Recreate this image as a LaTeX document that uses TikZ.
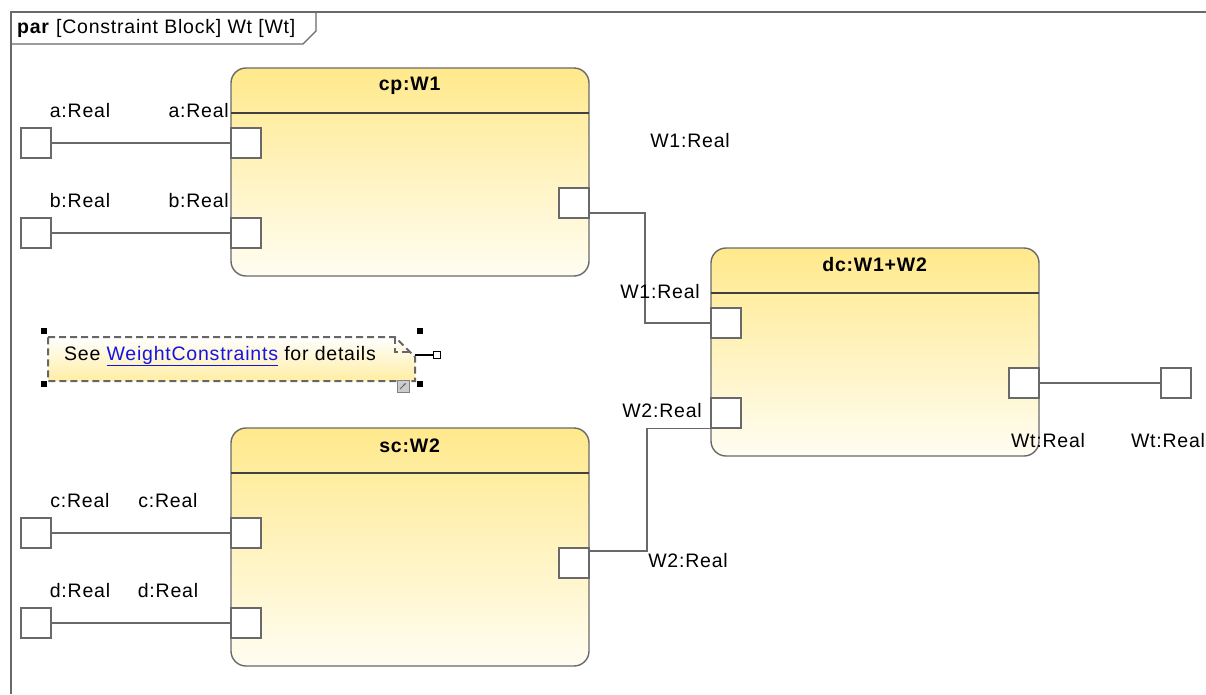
\documentclass[tikz,border=0pt]{standalone}
\usepackage{fontspec}
\setmainfont{Liberation Sans}[LetterSpace=4]
\usepackage{tikz}
\usetikzlibrary{arrows.meta, calc, positioning}

\definecolor{blockTop}{RGB}{255,233,140}
\definecolor{blockBot}{RGB}{255,253,242}
\definecolor{edgeGray}{RGB}{105,105,105}
\definecolor{linkBlue}{RGB}{20,20,230}

\begin{document}
\begin{tikzpicture}[x=1pt, y=-1pt, >=Stealth,
    font=\fontsize{19.5}{22}\selectfont,
    block/.style={draw=edgeGray, line width=1.4pt, rounded corners=15pt, top color=blockTop, bottom color=blockBot, inner sep=0pt},
    port/.style={draw=edgeGray, line width=1.3pt, fill=white, minimum size=30pt, inner sep=0pt},
    wire/.style={draw=edgeGray, line width=1.3pt},
    sepline/.style={draw=black!75, line width=1.3pt},
    lbl/.style={inner sep=0pt, text=black},
    notebox/.style={draw=black!60, line width=2pt, dash pattern=on 7pt off 4pt, top color=white, bottom color=blockTop!80}]
    \useasboundingbox (0,0) rectangle (1206,694);
    % frame
    \draw[edgeGray, line width=1.3pt] (1206,12) -- (11,12) -- (11,694);
    \draw[edgeGray, line width=1.3pt] (11,44) -- (303,44) -- (316,31) -- (316,12);
    \node[lbl, anchor=west] (frameTitle) at (17,28) {\textbf{par} [Constraint Block] Wt [Wt]};

    % constraint blocks
    \node[block, minimum width=358pt, minimum height=208pt] (cp) at (410,172) {};
    \node[block, minimum width=328pt, minimum height=208pt] (dc) at (875,352) {};
    \node[block, minimum width=358pt, minimum height=238pt] (sc) at (410,547) {};
    \draw[sepline] (231,113) -- (589,113);
    \draw[sepline] (711,293) -- (1039,293);
    \draw[sepline] (231,473) -- (589,473);
    \node[lbl] (cpTitle) at (410,86) {\textbf{cp:W1}};
    \node[lbl] (dcTitle) at (875,265) {\textbf{dc:W1+W2}};
    \node[lbl] (scTitle) at (410,446) {\textbf{sc:W2}};

    % ports
    \node[port] (extA) at (36,143) {};
    \node[port] (extB) at (36,233) {};
    \node[port] (extC) at (36,533) {};
    \node[port] (extD) at (36,623) {};
    \node[port] (cpA) at (246,143) {};
    \node[port] (cpB) at (246,233) {};
    \node[port] (cpOut) at (574,203) {};
    \node[port] (scC) at (246,533) {};
    \node[port] (scD) at (246,623) {};
    \node[port] (scOut) at (574,563) {};
    \node[port] (dcW1) at (726,323) {};
    \node[port] (dcW2) at (726,413) {};
    \node[port] (dcOut) at (1024,383) {};
    \node[port] (extWt) at (1176,383) {};

    % connectors
    \coordinate (bendA) at (645,0);
    \coordinate (bendB) at (647,0);
    \draw[wire] (extA) -- (cpA);
    \draw[wire] (extB) -- (cpB);
    \draw[wire] (extC) -- (scC);
    \draw[wire] (extD) -- (scD);
    \draw[wire] ([yshift=-10pt]cpOut.east) -| (bendA |- dcW1.west) -- (dcW1.west);
    \draw[wire] ([yshift=12pt]scOut.east) -| (bendB |- dcW2.south west) -- (dcW2.south west);
    \draw[wire] (dcOut) -- (extWt);

    % port labels
    \node[lbl] (lExtA) at (80,111) {a:Real};
    \node[lbl, anchor=east] (lCpA) at (229,111) {a:Real};
    \node[lbl] (lExtB) at (80,201) {b:Real};
    \node[lbl, anchor=east] (lCpB) at (229,201) {b:Real};
    \node[lbl] (lExtC) at (80,501) {c:Real};
    \node[lbl] (lScC) at (168,501) {c:Real};
    \node[lbl] (lExtD) at (80,591) {d:Real};
    \node[lbl] (lScD) at (168,591) {d:Real};
    \node[lbl] (lCpOut) at (690,141) {W1:Real};
    \node[lbl] (lDcW1) at (660,292) {W1:Real};
    \node[lbl] (lDcW2) at (662,411) {W2:Real};
    \node[lbl] (lScOut) at (688,561) {W2:Real};
    \node[lbl] (lDcOut) at (1048,441) {Wt:Real};
    \node[lbl] (lExtWt) at (1168,441) {Wt:Real};

    % note
    \draw[notebox] (48,337) -- (395,337) -- (415,357) -- (415,381) -- (48,381) -- cycle;
    \draw[black!60, line width=2pt, dash pattern=on 7pt off 4pt] (395,337) -- (395,352) -- (412,352);
    \node[lbl] (note) at (220,356) {See \textcolor{linkBlue}{\underline{WeightConstraints}} for details};
    \node[draw=black, line width=1pt, fill=white, minimum size=7pt, inner sep=0pt] (noteEnd) at (437,355) {};
    \coordinate (noteTip) at (415,355);
    \draw[black, line width=1.2pt] (noteTip) -- (noteEnd);
    \draw[black!50, fill=black!20, line width=0.8pt] (397,380) rectangle (409,392);
    \draw[black!60, line width=1pt, -{Stealth[length=3pt]}] (400,389) -- (406,383);
    \foreach \hx/\hy in {44/331, 420/331, 44/384, 420/384}
        \fill[black] (\hx-3,\hy-3) rectangle (\hx+3,\hy+3);
\end{tikzpicture}
\end{document}
